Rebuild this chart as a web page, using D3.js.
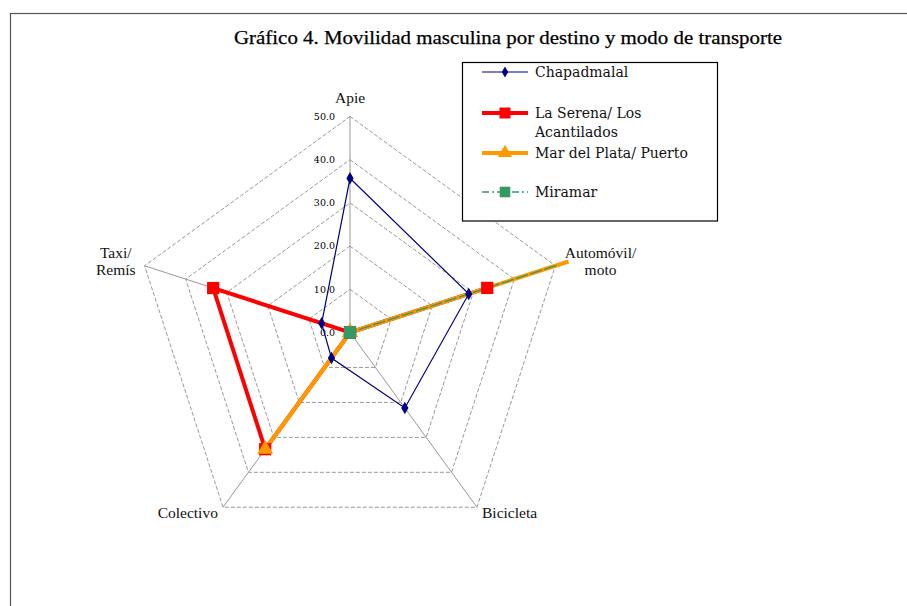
<!DOCTYPE html>
<html><head><meta charset="utf-8">
<script src="https://cdn.jsdelivr.net/npm/d3@7"></script>
<style>
html,body{margin:0;padding:0;background:#fff;}
svg{display:block;}
</style></head>
<body>
<svg id="chart" width="907" height="606"></svg>
<script>
// ---- data ----
const categories = ["Apie", "Automóvil/\nmoto", "Bicicleta", "Colectivo", "Taxi/\nRemís"];
const seriesNames = ["Chapadmalal", "La Serena/ Los\nAcantilados", "Mar del Plata/ Puerto", "Miramar"];
const chapadmalal = [35.7, 28.9, 21.6, 7.3, 6.9];
const laSerena    = [0, 33.4, 0, 33.4, 33.3];
const marDelPlata = [0, 53.2, 0, 33.4, 0];
const miramar     = [0, 50.5, 0, 0, 0];
const tickValues  = [0, 10, 20, 30, 40, 50];
const tickLabels  = ["0.0", "10.0", "20.0", "30.0", "40.0", "50.0"];
const titleText = "Gráfico 4. Movilidad masculina por destino y modo de transporte";

// ---- styles ----
const styles = [
  {color:"#000080", width:1.2, dash:null, symbol:d3.symbolDiamond, size:45},
  {color:"#ff0000", width:4, dash:null, symbol:d3.symbolSquare, size:150},
  {color:"#ff9900", width:4, dash:null, symbol:d3.symbolTriangle, size:110},
  {color:"#339966", width:1.3, dash:"7,3,2,3", symbol:d3.symbolSquare, size:140}
];
const allSeries = [chapadmalal, laSerena, marDelPlata, miramar];

const svg = d3.select("#chart");
const cx = 350, cy = 332.5, R = 216;
const maxV = d3.max(tickValues);
const r = d3.scaleLinear().domain([0, maxV]).range([0, R]);
const n = categories.length;
const ang = d3.scaleLinear().domain([0, n]).range([0, 2*Math.PI]);

// frame
svg.append("rect").attr("x", 10.5).attr("y", 13.5).attr("width", 920).attr("height", 620)
  .attr("fill", "none").attr("stroke", "#555").attr("stroke-width", 1.2);

// title
svg.append("text").attr("x", 508).attr("y", 44).attr("text-anchor", "middle")
  .attr("font-family", "'Liberation Serif', serif").attr("font-size", 18.5)
  .attr("textLength", 548).attr("lengthAdjust", "spacingAndGlyphs")
  .attr("fill", "#000").attr("stroke", "#000").attr("stroke-width", 0.25).text(titleText);

const g = svg.append("g").attr("transform", `translate(${cx},${cy})`);
const pt = (i, v) => [r(v) * Math.sin(ang(i)), -r(v) * Math.cos(ang(i))];

// grid rings
tickValues.filter(t => t > 0).forEach(t => {
  const pts = d3.range(n).map(i => pt(i, t));
  g.append("polygon").attr("points", pts.map(p => p.join(",")).join(" "))
    .attr("fill", "none").attr("stroke", "#999").attr("stroke-width", 1)
    .attr("stroke-dasharray", "4,2");
});
// spokes
d3.range(n).forEach(i => {
  const p = pt(i, maxV);
  g.append("line").attr("x1", 0).attr("y1", 0).attr("x2", p[0]).attr("y2", p[1])
    .attr("stroke", "#999").attr("stroke-width", 1);
});

// tick labels
tickValues.forEach((t, k) => {
  g.append("text").attr("x", -15).attr("y", -r(t)).attr("dy", "0.35em")
    .attr("text-anchor", "end").attr("font-family", "'DejaVu Serif', serif")
    .attr("font-size", 9.5).attr("fill", "#000").text(tickLabels[k]);
});

// category labels
categories.forEach((c, i) => {
  const p = pt(i, maxV);
  const s = Math.sin(ang(i));
  const lines = c.split("\n");
  const t = g.append("text").attr("font-family", "'Liberation Serif', serif")
    .attr("font-size", 15.5).attr("fill", "#111").attr("text-anchor", "middle");
  lines.forEach((l, j) => t.append("tspan").attr("x", 0).attr("dy", j === 0 ? 0 : 17).text(l));
  const w = t.node().getBBox().width;
  let x = p[0], y;
  if (Math.abs(s) < 0.1) { y = p[1] - 14; }
  else if (Math.cos(ang(i)) > 0) { x = p[0] + Math.sign(s) * (9 + w/2); y = p[1] - 8; }
  else { x = p[0] + Math.sign(s) * (5 + w/2); y = p[1] + 11; }
  t.attr("transform", `translate(${x},${y})`);
});

// lines
const radial = d3.lineRadial().angle((d, i) => ang(i)).radius(d => r(d)).curve(d3.curveLinearClosed);
allSeries.forEach((data, k) => {
  const st = styles[k];
  g.append("path").attr("d", radial(data)).attr("fill", "none")
    .attr("stroke", st.color).attr("stroke-width", st.width)
    .attr("stroke-dasharray", st.dash).attr("stroke-linejoin", "miter");
});
// markers (only inside the axis range)
allSeries.forEach((data, k) => {
  const st = styles[k];
  data.forEach((v, i) => {
    if (v > maxV) return;
    const p = pt(i, v);
    g.append("path").attr("d", d3.symbol().type(st.symbol).size(st.size)())
      .attr("transform", `translate(${p[0]},${p[1]})`).attr("fill", st.color);
  });
});

// legend
const lg = svg.append("g");
lg.append("rect").attr("x", 462.5).attr("y", 62.5).attr("width", 255).attr("height", 158.5)
  .attr("fill", "#fff").attr("stroke", "#000").attr("stroke-width", 1.2);
const rowY = [72, 113, 153, 192];
seriesNames.forEach((name, k) => {
  const st = styles[k];
  const y = rowY[k];
  lg.append("line").attr("x1", 482).attr("x2", 528).attr("y1", y).attr("y2", y)
    .attr("stroke", st.color).attr("stroke-width", st.width).attr("stroke-dasharray", st.dash);
  lg.append("path").attr("d", d3.symbol().type(st.symbol).size(st.size * 0.8)())
    .attr("transform", `translate(505,${y})`).attr("fill", st.color);
  const t = lg.append("text").attr("font-family", "'DejaVu Serif', serif").attr("font-size", 14)
    .attr("fill", "#111");
  name.split("\n").forEach((l, j) => t.append("tspan").attr("x", 535).attr("y", y + 5 + j * 19).text(l));
});
</script>
</body></html>
